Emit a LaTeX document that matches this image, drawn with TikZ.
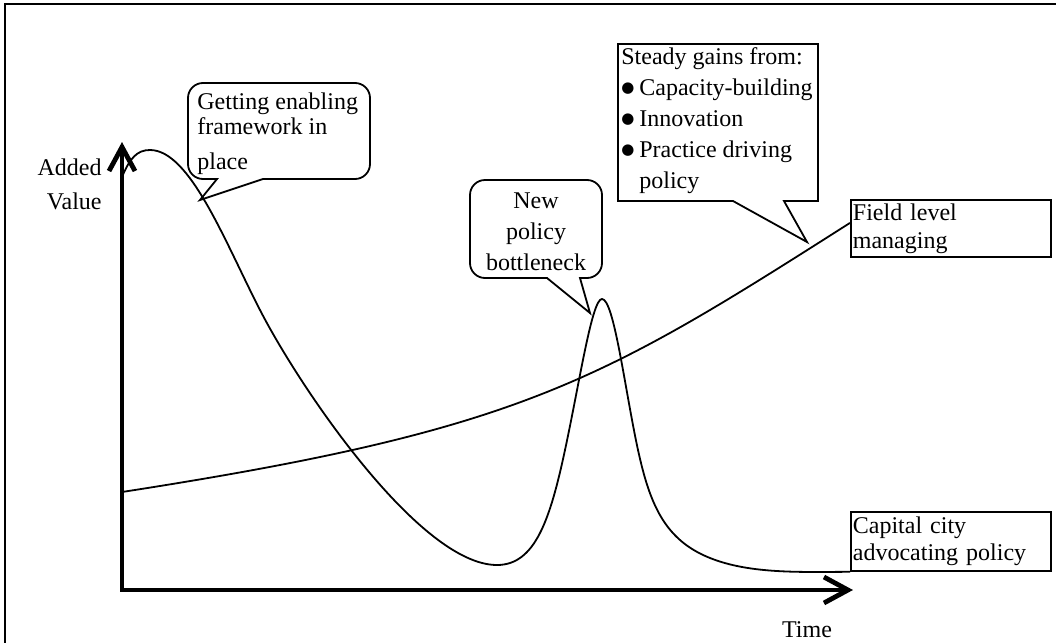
\documentclass[tikz,border=0pt]{standalone}
\usepackage{fontspec}
\setmainfont{Liberation Serif}
\newfontfamily\symfont{DejaVu Sans}
\usetikzlibrary{arrows.meta}

\newcommand{\bul}{\makebox[9pt][l]{\raisebox{1.3pt}{\symfont\fontsize{7.5}{9}\selectfont ●}}}

\tikzset{
  lbl/.style={inner sep=0pt, align=left, font=\fontsize{12}{#1}\selectfont},
  lbl/.default=13.5,
  curve/.style={line width=0.9pt},
  bubble/.style={line width=0.9pt},
  endbox/.style={draw, line width=0.9pt, anchor=north west, minimum width=100pt,
    text width=98pt, inner xsep=1pt},
  axis/.style={line width=2.4pt,
    {Straight Barb[length=12pt,width=13pt]}-{Straight Barb[length=12pt,width=13pt]}},
}

\begin{document}
\begin{tikzpicture}[x=0.5pt, y=-0.5pt]
  \useasboundingbox (0,0) rectangle (1056,643);

  % outer frame (cut off at right and bottom)
  \draw[line width=1pt] (1056,4) -- (5,4) -- (5,643);

  % axes
  \coordinate (origin) at (122,590);
  \coordinate (ytip) at (122,142);
  \coordinate (xtip) at (853,590);
  \draw[axis] (ytip) -- (origin) -- (xtip);
  \node[lbl=17, align=right, anchor=north east] (yname) at (102,158) {Added\\Value};
  \node[lbl, anchor=north] (xname) at (807,621) {Time};

  % labels at the right end of the curves
  \node[lbl=14, endbox, minimum height=28.5pt] (field) at (850,199) {Field level\\managing};
  \node[lbl=13.5, endbox, minimum height=29.5pt] (capital) at (850,511) {Capital city\\advocating policy};

  % capital city curve
  \draw[curve] (122,177) .. controls (130,158) and (137,150) .. (150,150)
    .. controls (190,150) and (225,242) .. (260,310)
    .. controls (300,388) and (420,565) .. (497,565)
    .. controls (535,565) and (550,520) .. (565,450)
    .. controls (580,380) and (592,299) .. (602,299)
    .. controls (614,299) and (625,390) .. (638,450)
    .. controls (650,505) and (665,540) .. (710,558)
    .. controls (750,574) and (800,572) .. (capital.south west);

  % field level curve
  \draw[curve] (122,492) .. controls (522,430) and (600,382)
    .. ([yshift=2.75pt]field.west);

  % callouts
  \draw[bubble] (217,179) [rounded corners=7.5pt] -- (188,179) -- (188,83) -- (370,83)
    -- (370,179) [sharp corners] -- (263,179) -- (200,200) -- cycle;
  \node[lbl=12.5, anchor=north west] (enabling) at (197,92)
    {Getting enabling\\framework in\\[5pt]place};

  \draw[bubble] (547,278) [rounded corners=7.5pt] -- (470,278) -- (470,180) -- (602,180)
    -- (602,278) [sharp corners] -- (580,278) -- (590,313) -- cycle;
  \node[lbl=15.5, align=center, anchor=north] (bottleneck) at (536,192)
    {New\\policy\\bottleneck};

  \draw[bubble] (733,201) -- (618,201) -- (618,44) -- (818,44) -- (818,201)
    -- (784,201) -- (807,242) -- cycle;
  \node[lbl=15.5, anchor=north west] (gains) at (621,47)
    {Steady gains from:\\\bul Capacity-building\\\bul Innovation\\
     \bul Practice driving\\\hphantom{\bul}policy};

\end{tikzpicture}
\end{document}
